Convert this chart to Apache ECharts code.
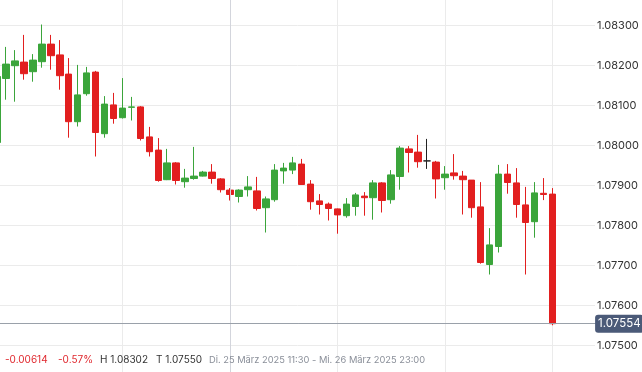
<!DOCTYPE html>
<html><head><meta charset="utf-8">
<script src="https://cdn.jsdelivr.net/npm/echarts@6/dist/echarts.min.js"></script>
<style>html,body{margin:0;padding:0;background:#fff}#c{width:642px;height:372px}</style>
</head><body><div id="c"></div>
<script>
const categories = [
 '25.03. 11:30','25.03. 12:00','25.03. 12:30','25.03. 13:00','25.03. 13:30','25.03. 14:00','25.03. 14:30','25.03. 15:00',
 '25.03. 15:30','25.03. 16:00','25.03. 16:30','25.03. 17:00','25.03. 17:30','25.03. 18:00','25.03. 18:30','25.03. 19:00',
 '25.03. 19:30','25.03. 20:00','25.03. 20:30','25.03. 21:00','25.03. 21:30','25.03. 22:00','25.03. 22:30','25.03. 23:00',
 '25.03. 23:30','26.03. 00:00','26.03. 00:30','26.03. 01:00','26.03. 01:30','26.03. 02:00','26.03. 02:30','26.03. 03:00',
 '26.03. 03:30','26.03. 04:00','26.03. 04:30','26.03. 05:00','26.03. 05:30','26.03. 06:00','26.03. 06:30','26.03. 07:00',
 '26.03. 07:30','26.03. 08:00','26.03. 08:30','26.03. 09:00','26.03. 09:30','26.03. 10:00','26.03. 10:30','26.03. 11:00',
 '26.03. 11:30','26.03. 12:00','26.03. 12:30','26.03. 13:00','26.03. 13:30','26.03. 14:00','26.03. 14:30','26.03. 15:00',
 '26.03. 15:30','26.03. 16:00','26.03. 16:30','26.03. 17:00','26.03. 17:30','26.03. 18:00','26.03. 18:30'
];
const opens = [
 1.08007,1.08167,1.08199,1.08208,1.08184,1.08209,1.08253,1.08226,1.08178,1.08059,1.08129,1.08183,1.08029,1.08101,1.08069,1.08095,
 1.08096,1.08021,1.07988,1.07914,1.07956,1.07909,1.07917,1.07923,1.07933,1.07916,1.07888,1.07872,1.07889,1.07886,1.07844,1.07864,
 1.07936,1.07938,1.07953,1.07903,1.07861,1.07853,1.07841,1.07824,1.07847,1.07873,1.07869,1.07906,1.07864,1.07922,1.07991,1.07983,
 1.07961,1.07958,1.07919,1.07931,1.07923,1.07913,1.07846,1.07702,1.07747,1.07928,1.07906,1.07851,1.07809,1.07880,1.07878
];
const closes = [
 1.08172,1.08203,1.08211,1.08179,1.08213,1.08253,1.08224,1.08174,1.08059,1.08126,1.08181,1.08032,1.08103,1.08067,1.08093,1.08096,
 1.08017,1.07984,1.07912,1.07956,1.07912,1.07918,1.07923,1.07933,1.07917,1.07889,1.07877,1.07888,1.07896,1.07842,1.07866,1.07938,
 1.07943,1.07956,1.07902,1.07859,1.07852,1.07842,1.07826,1.07853,1.07876,1.07869,1.07906,1.07862,1.07926,1.07993,1.07982,1.07959,
 1.07961,1.07916,1.07928,1.07924,1.07914,1.07844,1.07707,1.07751,1.07928,1.07907,1.07852,1.07807,1.07881,1.07877,1.07554
];
const lows = [
 1.08005,1.08114,1.08109,1.08164,1.08159,1.08194,1.08189,1.08139,1.08019,1.08047,1.08124,1.07972,1.08019,1.08054,1.08067,1.08062,
 1.08012,1.07972,1.07909,1.07913,1.07902,1.07894,1.07914,1.07922,1.07904,1.07882,1.07862,1.07857,1.07872,1.07837,1.07782,1.07859,
 1.07904,1.07928,1.07901,1.07839,1.07827,1.07812,1.07779,1.07819,1.07824,1.07824,1.07814,1.07832,1.07854,1.07889,1.07932,1.07944,
 1.07941,1.07867,1.07889,1.07914,1.07827,1.07819,1.07704,1.07677,1.07732,1.07879,1.07819,1.07677,1.07769,1.07863,1.07550
];
const highs = [
 1.08174,1.08246,1.08238,1.08276,1.08228,1.08302,1.08276,1.08263,1.08218,1.08201,1.08196,1.08186,1.08123,1.08131,1.08168,1.08121,
 1.08098,1.08046,1.08018,1.07991,1.07958,1.07941,1.07996,1.07936,1.07953,1.07918,1.07893,1.07890,1.07923,1.07921,1.07872,1.07953,
 1.07956,1.07971,1.07966,1.07913,1.07878,1.07857,1.07842,1.07868,1.07881,1.07883,1.07913,1.07908,1.07938,1.07998,1.07998,1.08026,
 1.08016,1.07961,1.07948,1.07978,1.07936,1.07913,1.07908,1.07793,1.07951,1.07953,1.07943,1.07896,1.07908,1.07918,1.07893
];
const yTickMin = 1.075, yTickMax = 1.083, yTickStep = 0.001;
const lastPrice = 1.07554;
const dayBreak = '26.03. 00:30';
const summaryTexts = ['-0.00614', '-0.57%', 'H 1.08302', 'T 1.07550', 'Di. 25 März 2025 11:30 - Mi. 26 März 2025 23:00'];

const GREEN = '#3ba53b', RED = '#e21f1f';
const ohlc = categories.map((c, i) => [opens[i], closes[i], lows[i], highs[i]]);
const font = 'Inter, "Noto Sans", sans-serif';
const tStyle = (color, size) => ({fontSize: size, fontWeight: 'normal', color: color, fontFamily: font});

const chart = echarts.init(document.getElementById('c'), null, {renderer: 'canvas'});
chart.setOption({
  animation: false,
  backgroundColor: '#fff',
  title: [
    {text: summaryTexts[0], left: 5, top: 355, padding: 0, textStyle: tStyle('#e0282e', 10)},
    {text: summaryTexts[1], left: 58, top: 355, padding: 0, textStyle: tStyle('#e0282e', 10)},
    {text: summaryTexts[2], left: 100, top: 355, padding: 0, textStyle: tStyle('#333', 10)},
    {text: summaryTexts[3], left: 156, top: 355, padding: 0, textStyle: tStyle('#333', 10)},
    {text: summaryTexts[4], left: 209, top: 355.5, padding: 0, textStyle: tStyle('#8a8f99', 9.3)}
  ],
  grid: [
    {left: -2.9, right: 44.9, top: 0, bottom: 0, outerBoundsMode: 'none', containLabel: false},
    {left: 0, right: 47, top: 25.3, bottom: 26.7, outerBoundsMode: 'none', containLabel: false}
  ],
  xAxis: [
    {type: 'category', gridIndex: 0, data: categories, boundaryGap: false, max: 67,
     axisLine: {show: false}, axisTick: {show: false}, axisLabel: {show: false},
     splitLine: {show: true, interval: (i) => i >= 14 && (i - 2) % 12 === 0, lineStyle: {color: '#ebebeb', width: 1}}},
    {type: 'value', gridIndex: 1, show: false, min: 0, max: 1}
  ],
  yAxis: [
    {type: 'value', gridIndex: 0, show: false, min: 1.0743325, max: 1.0836325, splitLine: {show: false}},
    {type: 'value', gridIndex: 1, position: 'right', min: yTickMin, max: yTickMax, interval: yTickStep,
     axisLine: {show: false}, axisTick: {show: false},
     axisLabel: {margin: 2, color: '#333', fontSize: 11, fontFamily: font, formatter: v => v.toFixed(5)},
     splitLine: {show: true, lineStyle: {color: '#ebebeb', width: 1}}}
  ],
  series: [
    {type: 'line', xAxisIndex: 0, yAxisIndex: 0, data: [], z: 1, silent: true,
     markLine: {silent: true, symbol: 'none', animation: false,
       data: [
         {xAxis: dayBreak, lineStyle: {color: '#d3d5dc', width: 1, type: 'solid'}, label: {show: false}}
       ]}},
    {type: 'candlestick', xAxisIndex: 0, yAxisIndex: 0, data: ohlc, barWidth: 7, z: 3,
     itemStyle: {color: GREEN, color0: RED, borderColor: GREEN, borderColor0: RED, borderColorDoji: '#222', borderWidth: 1},
     markLine: {silent: true, symbol: 'none', animation: false, precision: 5,
       data: [
         {yAxis: lastPrice, lineStyle: {color: '#9aa1aa', width: 1, type: 'solid'},
          label: {show: true, position: 'end', distance: -2, formatter: lastPrice.toFixed(5),
                  backgroundColor: '#4b5a78', color: '#fff', padding: [3, 3, 3, 3], borderRadius: 3,
                  fontSize: 11.5, fontFamily: font}}
       ]}}
  ]
});
</script></body></html>
